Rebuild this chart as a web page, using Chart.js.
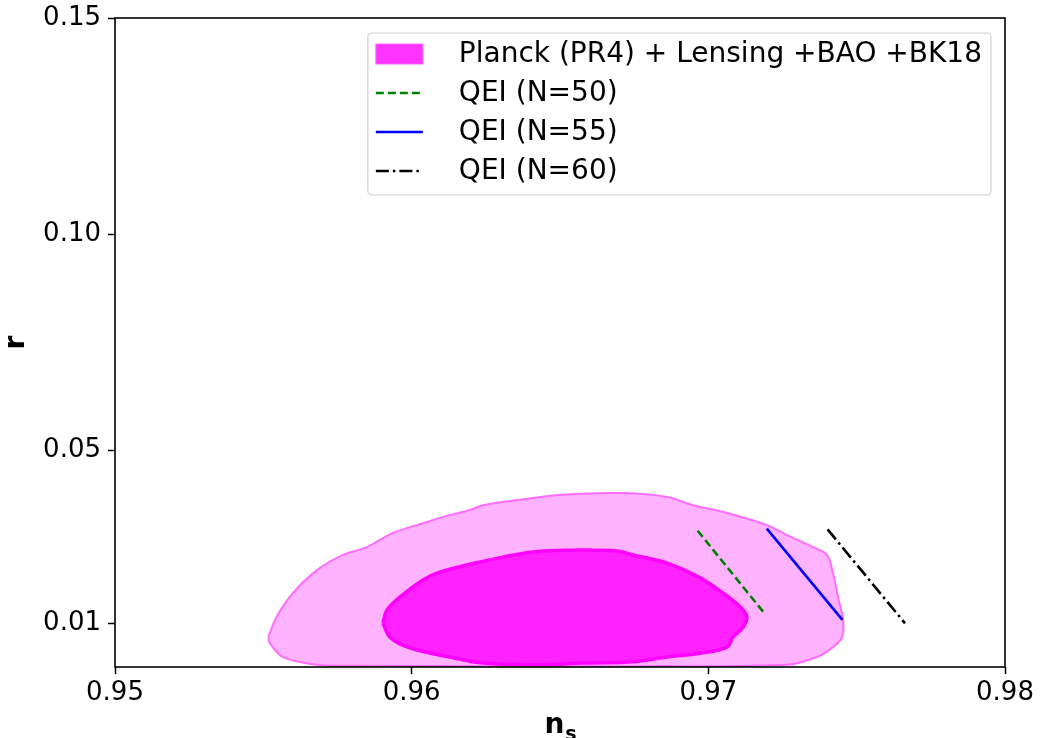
<!DOCTYPE html>
<html>
<head>
<meta charset="utf-8">
<script src="https://cdn.jsdelivr.net/npm/chart.js@4/dist/chart.umd.min.js"></script>
<style>
  html, body { margin: 0; padding: 0; background: #fff; }
  #wrap { width: 1040px; height: 738px; }
</style>
</head>
<body>
<div id="wrap"><canvas id="chart" width="1040" height="738"></canvas></div>
<script>
// 68% / 95% contours in the (n_s, r) plane, traced clockwise and closed
const outerNs = [0.95517, 0.95545, 0.95600, 0.95681, 0.95769, 0.95849, 0.95937, 0.96052, 0.96106, 0.96197,
  0.96240, 0.96355, 0.96510, 0.96712, 0.96861, 0.96948, 0.97063, 0.97198, 0.97265, 0.97353,
  0.97400, 0.97420, 0.97437, 0.97454, 0.97451, 0.97420, 0.97366, 0.97265, 0.96800, 0.96300,
  0.95800, 0.95681, 0.95566, 0.95522, 0.95517];
const outerR = [0.0070, 0.0116, 0.0171, 0.0224, 0.0259, 0.0277, 0.0310, 0.0335, 0.0347, 0.0363,
  0.0374, 0.0386, 0.0398, 0.0402, 0.0393, 0.0374, 0.0356, 0.0328, 0.0305, 0.0277,
  0.0259, 0.0217, 0.0162, 0.0109, 0.0069, 0.0046, 0.0023, 0.0005, 0.0002, 0.0002,
  0.0003, 0.0005, 0.0023, 0.0055, 0.0070];

const innerNs = [0.95903, 0.95917, 0.95961, 0.96038, 0.96085, 0.96187, 0.96308, 0.96409, 0.96524, 0.96692,
  0.96746, 0.96861, 0.96972, 0.97049, 0.97107, 0.97130, 0.97117, 0.97083, 0.97063, 0.96972,
  0.96861, 0.96746, 0.96578, 0.96409, 0.96240, 0.96129, 0.95994, 0.95927, 0.95903];
const innerR = [0.0102, 0.0132, 0.0162, 0.0201, 0.0217, 0.0236, 0.0254, 0.0266, 0.0270, 0.0268,
  0.0259, 0.0240, 0.0206, 0.0171, 0.0139, 0.0116, 0.0092, 0.0069, 0.0046, 0.0032,
  0.0023, 0.0012, 0.0009, 0.0005, 0.0009, 0.0023, 0.0044, 0.0069, 0.0102];

// model predictions, one segment per e-fold number
const qei50Ns = [0.96964, 0.97188];
const qei50R = [0.0315, 0.0125];
const qei55Ns = [0.97197, 0.97452];
const qei55R = [0.0320, 0.0109];
const qei60Ns = [0.97402, 0.97663];
const qei60R = [0.0318, 0.0101];

const xTicks = [0.95, 0.96, 0.97, 0.98];
const yTicks = [0.01, 0.05, 0.10, 0.15];

const legendLabels = ["Planck (PR4) + Lensing +BAO +BK18", "QEI (N=50)", "QEI (N=55)", "QEI (N=60)"];

const pts = (xs, ys) => xs.map((x, i) => ({ x: x, y: ys[i] }));

const FONT = "'DejaVu Sans', sans-serif";

// spines on all four sides
const frame = {
  id: "frame",
  afterDatasetsDraw(chart) {
    const { ctx, chartArea: a } = chart;
    ctx.save();
    ctx.strokeStyle = "#000";
    ctx.lineWidth = 1.6;
    ctx.strokeRect(a.left, a.top, a.right - a.left, a.bottom - a.top);
    ctx.restore();
  },
};

// matplotlib-style legend box in the upper right
const legendBox = {
  id: "legendBox",
  afterDraw(chart) {
    const { ctx, chartArea: a } = chart;
    const ds = chart.data.datasets;
    const entries = [
      { label: legendLabels[0], patch: true },
      { label: legendLabels[1], d: ds[0] },
      { label: legendLabels[2], d: ds[1] },
      { label: legendLabels[3], d: ds[2] },
    ];
    ctx.save();
    ctx.font = "28px " + FONT;
    const textW = Math.max(...entries.map(e => ctx.measureText(e.label).width));
    const rowH = 39;
    const w = 91 + textW + 9;
    const h = rowH * entries.length + 6;
    const x0 = a.right - 14 - w;
    const y0 = a.top + 15;

    ctx.beginPath();
    ctx.roundRect(x0, y0, w, h, 4);
    ctx.fillStyle = "rgba(255,255,255,0.85)";
    ctx.fill();
    ctx.strokeStyle = "#d0d0d0";
    ctx.lineWidth = 1.2;
    ctx.stroke();

    entries.forEach((e, i) => {
      const cy = y0 + 21 + i * rowH;
      const hx = x0 + 8;
      if (e.patch) {
        ctx.fillStyle = "#ff33ff";
        ctx.fillRect(hx, cy - 10, 47, 20);
        ctx.strokeStyle = "#ff66ff";
        ctx.lineWidth = 1;
        ctx.strokeRect(hx, cy - 10, 47, 20);
      } else {
        ctx.beginPath();
        ctx.setLineDash(e.d.borderDash || []);
        ctx.strokeStyle = e.d.borderColor;
        ctx.lineWidth = e.d.borderWidth;
        ctx.moveTo(hx, cy);
        ctx.lineTo(hx + 47, cy);
        ctx.stroke();
        ctx.setLineDash([]);
      }
      ctx.fillStyle = "#000";
      ctx.textAlign = "left";
      ctx.textBaseline = "middle";
      ctx.fillText(e.label, x0 + 91, cy + 1);
    });
    ctx.restore();
  },
};

// axis labels: bold "r" rotated, bold n with subscript s
const axisLabels = {
  id: "axisLabels",
  afterDraw(chart) {
    const { ctx, chartArea: a } = chart;
    ctx.save();
    ctx.fillStyle = "#000";
    ctx.font = "bold 28px " + FONT;
    ctx.textAlign = "center";
    ctx.textBaseline = "middle";
    ctx.translate(17, (a.top + a.bottom) / 2);
    ctx.rotate(-Math.PI / 2);
    ctx.fillText("r", 0, 0);
    ctx.restore();

    ctx.save();
    ctx.fillStyle = "#000";
    ctx.textBaseline = "alphabetic";
    ctx.font = "bold 28px " + FONT;
    const nW = ctx.measureText("n").width;
    ctx.font = "bold 19px " + FONT;
    const sW = ctx.measureText("s").width;
    const cx = (a.left + a.right) / 2;
    const x = cx - (nW + sW) / 2;
    ctx.font = "bold 28px " + FONT;
    ctx.textAlign = "left";
    ctx.fillText("n", x, 733);
    ctx.font = "bold 19px " + FONT;
    ctx.fillText("s", x + nW + 1, 740);
    ctx.restore();
  },
};

new Chart(document.getElementById("chart"), {
  type: "line",
  data: {
    datasets: [
      {
        data: pts(qei50Ns, qei50R),
        borderColor: "#008000",
        borderWidth: 2.6,
        borderDash: [8, 4],
        pointRadius: 0,
        fill: false,
      },
      {
        data: pts(qei55Ns, qei55R),
        borderColor: "#0000ff",
        borderWidth: 2.6,
        pointRadius: 0,
        fill: false,
      },
      {
        data: pts(qei60Ns, qei60R),
        borderColor: "#000000",
        borderWidth: 2.6,
        borderDash: [13, 4, 2.5, 4],
        pointRadius: 0,
        fill: false,
      },
      {
        data: pts(innerNs, innerR),
        borderColor: "#ff00ff",
        backgroundColor: "#ff22ff",
        borderWidth: 3.5,
        pointRadius: 0,
        tension: 0.35,
        fill: "shape",
      },
      {
        data: pts(outerNs, outerR),
        borderColor: "#ff6cff",
        backgroundColor: "#ffb3ff",
        borderWidth: 2,
        pointRadius: 0,
        tension: 0.35,
        fill: "shape",
      },
    ],
  },
  options: {
    responsive: false,
    animation: false,
    events: [],
    layout: { padding: { left: 0, top: 18, right: 35, bottom: 0 } },
    scales: {
      x: {
        type: "linear",
        min: 0.95,
        max: 0.98,
        afterBuildTicks: (scale) => { scale.ticks = xTicks.map(v => ({ value: v })); },
        afterFit: (scale) => { scale.height = 71; scale.paddingLeft = 0; scale.paddingRight = 0; },
        ticks: {
          color: "#000",
          font: { family: FONT, size: 26 },
          padding: 4,
          maxRotation: 0,
          callback: (v) => v.toFixed(2),
        },
        grid: { drawOnChartArea: false, drawTicks: true, tickLength: 7, tickWidth: 1.5, color: "#000" },
        border: { display: false },
      },
      y: {
        type: "linear",
        min: 0,
        max: 0.15,
        afterBuildTicks: (scale) => { scale.ticks = yTicks.map(v => ({ value: v })); },
        afterFit: (scale) => { scale.width = 115; scale.paddingTop = 0; scale.paddingBottom = 0; },
        ticks: {
          color: "#000",
          font: { family: FONT, size: 26 },
          padding: 7,
          callback: (v) => v.toFixed(2),
        },
        grid: { drawOnChartArea: false, drawTicks: true, tickLength: 7, tickWidth: 1.5, color: "#000" },
        border: { display: false },
      },
    },
    plugins: {
      legend: { display: false },
      tooltip: { enabled: false },
      title: { display: false },
    },
  },
  plugins: [frame, legendBox, axisLabels],
});
</script>
</body>
</html>
